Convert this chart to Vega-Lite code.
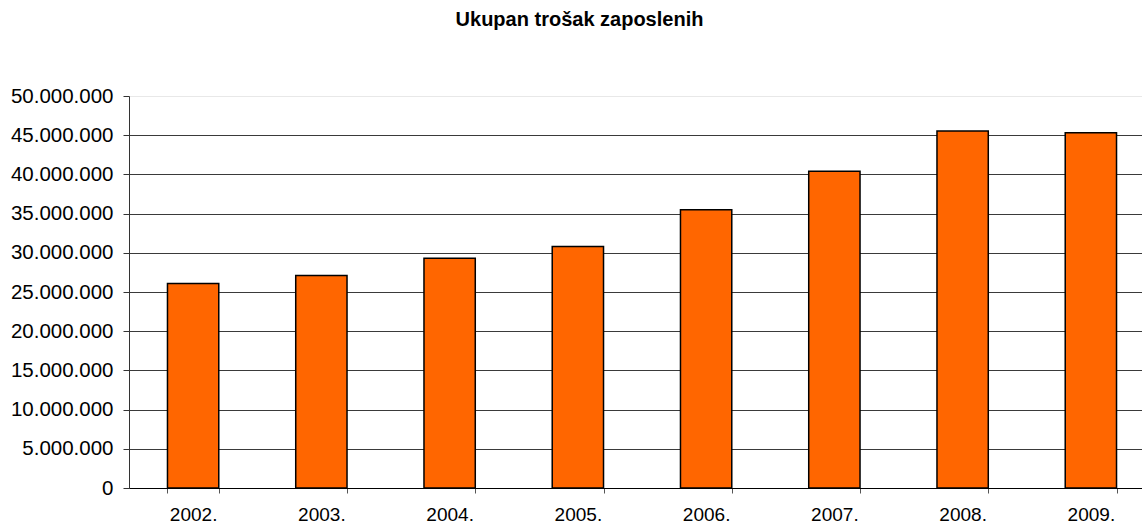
{
  "$schema": "https://vega.github.io/schema/vega-lite/v6.json",
  "width": 1013,
  "height": 392,
  "autosize": {"type": "none"},
  "padding": {"left": 129, "top": 96, "right": 0, "bottom": 38},
  "background": "white",
  "title": {
    "text": "Ukupan trošak zaposlenih",
    "font": "Liberation Sans",
    "fontSize": 20,
    "fontWeight": "bold",
    "color": "#000",
    "anchor": "middle",
    "frame": "group",
    "dx": -56,
    "offset": 56
  },
  "data": {
    "values": [
      {"godina": "2002.", "trosak": 26100000},
      {"godina": "2003.", "trosak": 27100000},
      {"godina": "2004.", "trosak": 29300000},
      {"godina": "2005.", "trosak": 30800000},
      {"godina": "2006.", "trosak": 35500000},
      {"godina": "2007.", "trosak": 40400000},
      {"godina": "2008.", "trosak": 45550000},
      {"godina": "2009.", "trosak": 45300000}
    ]
  },
  "mark": {"type": "bar", "fill": "#FF6600", "stroke": "#000", "strokeWidth": 1.5},
  "encoding": {
    "x": {
      "field": "godina",
      "type": "nominal",
      "sort": null,
      "scale": {"range": [0, 1026], "paddingInner": 0.6, "paddingOuter": 0.3},
      "axis": {
        "title": null,
        "labelAngle": 0,
        "labelFont": "Liberation Sans",
        "labelFontSize": 19,
        "labelColor": "#000",
        "labelPadding": 12,
        "tickBand": "extent",
        "tickSize": 5,
        "tickColor": "#555",
        "domainColor": "#000",
        "grid": false
      }
    },
    "y": {
      "field": "trosak",
      "type": "quantitative",
      "scale": {"domain": [0, 50000000], "nice": false},
      "axis": {
        "title": null,
        "values": [0, 5000000, 10000000, 15000000, 20000000, 25000000, 30000000, 35000000, 40000000, 45000000, 50000000],
        "labelExpr": "replace(format(datum.value, ','), regexp(',', 'g'), '.')",
        "labelFont": "Liberation Sans",
        "labelFontSize": 20.5,
        "labelColor": "#000",
        "labelPadding": 10,
        "tickSize": 6,
        "tickColor": "#333",
        "domainColor": "#333",
        "grid": true,
        "gridColor": {"condition": {"test": "datum.value == 50000000", "value": "#e8e8e8"}, "value": "#3a3a3a"},
        "gridWidth": 1
      }
    }
  },
  "config": {
    "view": {"stroke": null}
  }
}
